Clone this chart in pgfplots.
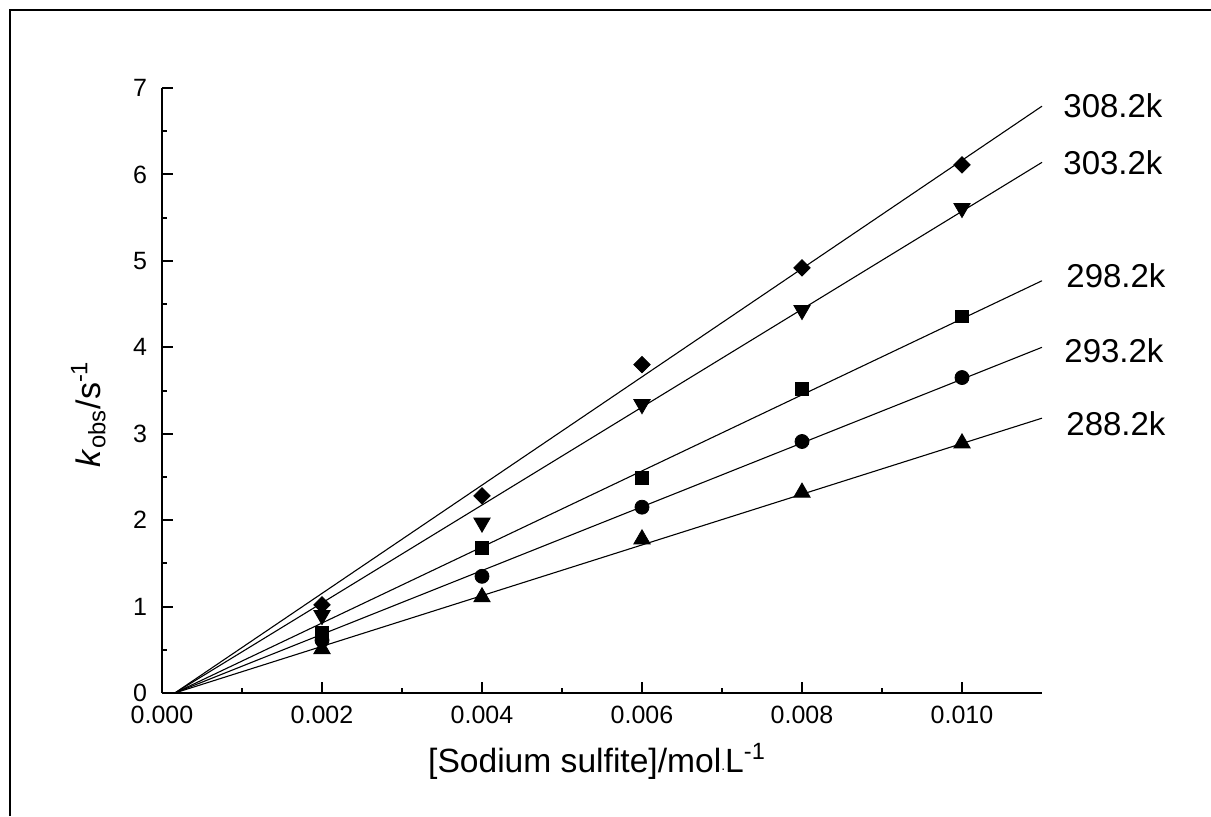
\documentclass[border=0pt]{standalone}
\usepackage{fontspec}
\setmainfont{Liberation Sans}
\usepackage{pgfplots}
\pgfplotsset{compat=1.18}

\begin{document}
\begin{tikzpicture}
\useasboundingbox (0,0) rectangle (605.5pt,408pt);
% outer frame (only left and top edges fall inside the picture)
\draw[line width=1pt] (5pt,0) -- (5pt,403pt) -- (606pt,403pt);
\begin{axis}[
    at={(81pt,61.5pt)}, anchor=south west,
    scale only axis,
    width=440pt, height=302.5pt,
    xmin=0, xmax=0.011,
    ymin=0, ymax=7,
    axis lines=left,
    axis line style={-, line width=1pt},
    tick align=inside,
    major tick length=5.5pt,
    minor tick length=2.7pt,
    every tick/.style={black, line width=1pt},
    minor x tick num=1,
    minor y tick num=1,
    xtick={0,0.002,0.004,0.006,0.008,0.010},
    ytick={0,1,2,3,4,5,6,7},
    scaled x ticks=false,
    xticklabel style={/pgf/number format/fixed, /pgf/number format/fixed zerofill,
        /pgf/number format/precision=3, yshift=-3pt},
    /pgf/number format/assume math mode=true,
    ticklabel style={font=\fontsize{12.5}{15}\selectfont},
    yticklabel style={xshift=-4pt},
    clip=false,
]
% fitted lines
\addplot[black, line width=0.55pt] coordinates {(0.00016,0) (0.011,6.79)};
\addplot[black, line width=0.55pt] coordinates {(0.00016,0) (0.011,6.14)};
\addplot[black, line width=0.55pt] coordinates {(0.00016,0) (0.011,4.77)};
\addplot[black, line width=0.55pt] coordinates {(0.00016,0) (0.011,4.00)};
\addplot[black, line width=0.55pt] coordinates {(0.00016,0) (0.011,3.18)};
% 308.2k
\addplot[only marks, mark=square*, mark size=2.9pt, mark options={rotate=45, fill=black}] coordinates {
    (0.002,1.02) (0.004,2.28) (0.006,3.80) (0.008,4.92) (0.010,6.11)};
% 303.2k
\addplot[only marks, mark=triangle*, mark size=4.7pt, mark options={rotate=180, fill=black}] coordinates {
    (0.002,0.90) (0.004,1.97) (0.006,3.34) (0.008,4.43) (0.010,5.61)};
% 298.2k
\addplot[only marks, mark=square*, mark size=3.1pt, mark options={fill=black}] coordinates {
    (0.002,0.70) (0.004,1.68) (0.006,2.49) (0.008,3.52) (0.010,4.36)};
% 293.2k
\addplot[only marks, mark=*, mark size=3.5pt, mark options={fill=black}] coordinates {
    (0.002,0.61) (0.004,1.35) (0.006,2.15) (0.008,2.91) (0.010,3.65)};
% 288.2k
\addplot[only marks, mark=triangle*, mark size=4.7pt, mark options={fill=black}] coordinates {
    (0.002,0.51) (0.004,1.11) (0.006,1.78) (0.008,2.32) (0.010,2.89)};
\end{axis}
% series labels
\begin{scope}[every node/.style={anchor=west, inner sep=0pt, font=\fontsize{16.5}{19}\selectfont}]
\node at (531.5pt,355pt) {308.2k};
\node at (531.5pt,326.5pt) {303.2k};
\node at (533pt,270pt) {298.2k};
\node at (532pt,232.5pt) {293.2k};
\node at (533pt,196pt) {288.2k};
\end{scope}
% axis titles
\node[anchor=base, inner sep=0pt, font=\fontsize{16.8}{20}\selectfont] at (298.5pt,22pt)
    {[Sodium sulfite]/mol{\scriptsize\raisebox{0.15ex}{.}}L\textsuperscript{-1}};
\node[anchor=base, rotate=90, inner sep=0pt, font=\fontsize{17}{20}\selectfont] at (50pt,201pt)
    {\textit{k}\textsubscript{obs}/s\textsuperscript{-1}};
\end{tikzpicture}
\end{document}
